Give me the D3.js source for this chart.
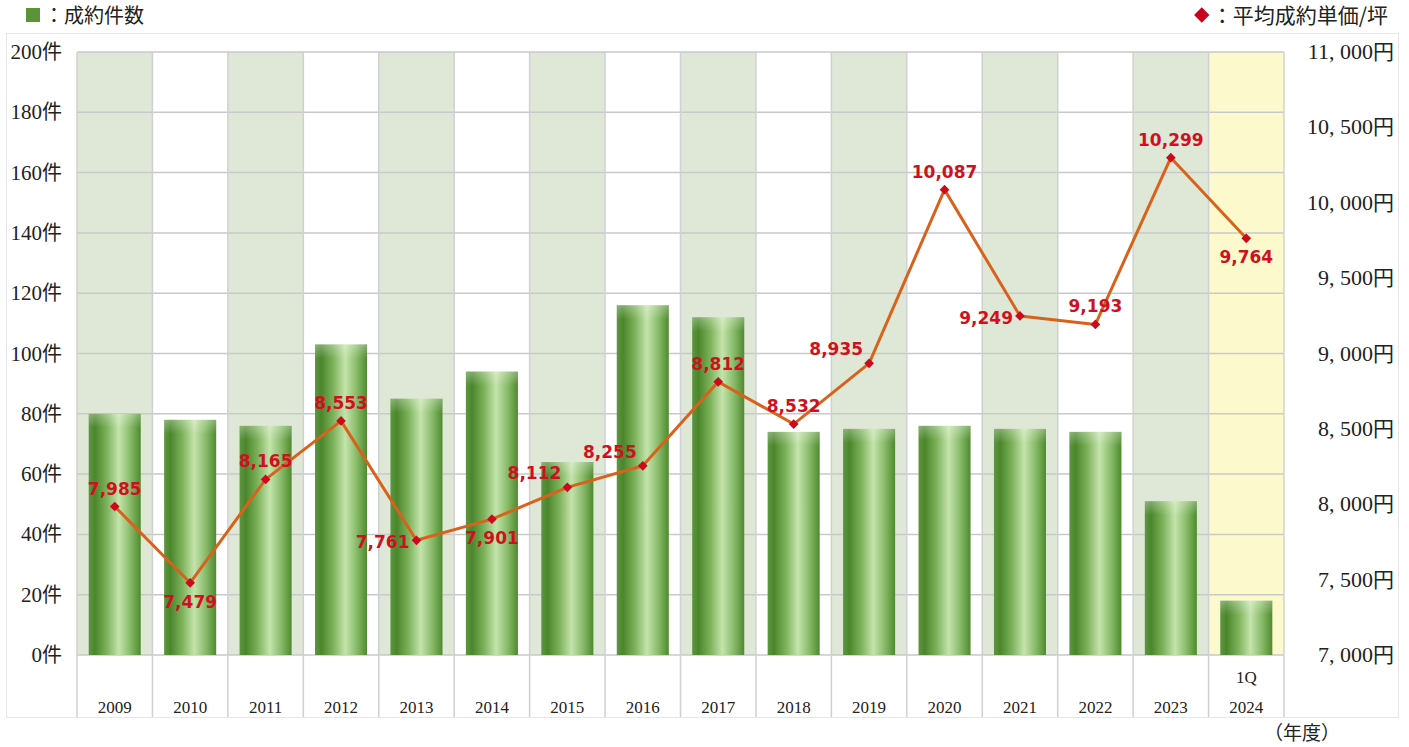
<!DOCTYPE html>
<html>
<head>
<meta charset="utf-8">
<script src="https://cdn.jsdelivr.net/npm/d3@7"></script>
<style>
  html, body { margin: 0; padding: 0; background: #fff; }
  svg { display: block; }
</style>
</head>
<body>
<svg id="chart" width="1409" height="747"></svg>
<script>
// data
const years = ["2009", "2010", "2011", "2012", "2013", "2014", "2015", "2016",
               "2017", "2018", "2019", "2020", "2021", "2022", "2023", "2024"]
const subLabels = ["", "", "", "", "", "", "", "", "", "", "", "", "", "", "", "1Q"]
const dealCounts = [80, 78, 76, 103, 85, 94, 64, 116, 112, 74, 75, 76, 75, 74, 51, 18]
const unitPrices = [7985, 7479, 8165, 8553, 7761, 7901, 8112, 8255,
                    8812, 8532, 8935, 10087, 9249, 9193, 10299, 9764]
const labelSides = ["above", "below", "above", "above", "left", "below", "aboveLeft", "aboveLeft",
                    "above", "above", "aboveLeft", "above", "left", "above", "above", "below"]
const countTicks = [0, 20, 40, 60, 80, 100, 120, 140, 160, 180, 200]
const priceTicks = [7000, 7500, 8000, 8500, 9000, 9500, 10000, 10500, 11000]

const serif = '"Liberation Serif", "DejaVu Serif", serif'
const gothic = '"Noto Sans CJK JP", "Noto Sans", sans-serif'

const svg = d3.select("#chart")
const plotLeft = 77, plotRight = 1284, plotTop = 52, plotBottom = 655, labelBottom = 717

const x = d3.scaleBand().domain(years).range([plotLeft, plotRight]).padding(0)
const yCount = d3.scaleLinear().domain([0, 200]).range([plotBottom, plotTop])
const yPrice = d3.scaleLinear().domain([7000, 11000]).range([plotBottom, plotTop])

// bar gradient
const defs = svg.append("defs")
const grad = defs.append("linearGradient")
    .attr("id", "barGrad")
    .attr("x1", "0%").attr("x2", "100%").attr("y1", "0%").attr("y2", "0%")
const stops = [[0, "#5e9642"], [0.12, "#4b862b"], [0.35, "#7db25b"], [0.58, "#c4e4ab"], [0.8, "#88bb69"], [1, "#4e8a2e"]]
stops.forEach(s => grad.append("stop").attr("offset", s[0]).attr("stop-color", s[1]))

const capGrad = defs.append("linearGradient")
    .attr("id", "capGrad")
    .attr("x1", "0%").attr("x2", "0%").attr("y1", "0%").attr("y2", "100%")
capGrad.append("stop").attr("offset", 0).attr("stop-color", "#ffffff").attr("stop-opacity", 0.3)
capGrad.append("stop").attr("offset", 1).attr("stop-color", "#ffffff").attr("stop-opacity", 0)

// outer frame
svg.append("rect")
    .attr("x", 6.5).attr("y", 33.5)
    .attr("width", 1392).attr("height", labelBottom - 33)
    .attr("fill", "none")
    .attr("stroke", "#e6e6e6")

// column backgrounds
svg.append("g")
    .selectAll("rect")
    .data(years)
    .join("rect")
    .attr("x", d => x(d))
    .attr("y", plotTop)
    .attr("width", x.bandwidth())
    .attr("height", plotBottom - plotTop)
    .attr("fill", (d, i) => i === years.length - 1 ? "#fcf9cc" : (i % 2 === 0 ? "#dfe8d6" : "#ffffff"))

// horizontal grid
svg.append("g")
    .selectAll("line")
    .data(countTicks)
    .join("line")
    .attr("x1", plotLeft).attr("x2", plotRight)
    .attr("y1", d => yCount(d)).attr("y2", d => yCount(d))
    .attr("stroke", "#c9c9c9")
    .attr("stroke-width", 1.5)

// vertical separators
const seps = years.map(d => x(d)).concat([plotRight])
svg.append("g")
    .selectAll("line")
    .data(seps)
    .join("line")
    .attr("x1", d => d).attr("x2", d => d)
    .attr("y1", plotTop).attr("y2", labelBottom)
    .attr("stroke", "#d0d0d4")
    .attr("stroke-width", 1.5)

// bars
const barW = x.bandwidth() * 0.69
const bars = svg.append("g")
bars.selectAll("rect.bar")
    .data(dealCounts)
    .join("rect")
    .attr("class", "bar")
    .attr("x", (d, i) => x(years[i]) + (x.bandwidth() - barW) / 2)
    .attr("y", d => yCount(d))
    .attr("width", barW)
    .attr("height", d => plotBottom - yCount(d))
    .attr("fill", "url(#barGrad)")
bars.selectAll("rect.cap")
    .data(dealCounts)
    .join("rect")
    .attr("class", "cap")
    .attr("x", (d, i) => x(years[i]) + (x.bandwidth() - barW) / 2)
    .attr("y", d => yCount(d))
    .attr("width", barW)
    .attr("height", 14)
    .attr("fill", "url(#capGrad)")

// left axis labels
const leftLabels = svg.append("g")
    .selectAll("text")
    .data(countTicks)
    .join("text")
    .attr("x", 62)
    .attr("y", d => yCount(d) + 7)
    .attr("text-anchor", "end")
    .attr("font-size", 20)
    .attr("fill", "#222")
leftLabels.append("tspan").attr("font-family", serif).attr("font-size", 21).text(d => d)
leftLabels.append("tspan").attr("font-family", gothic).text("件")

// right axis labels
const rightLabels = svg.append("g")
    .selectAll("text")
    .data(priceTicks)
    .join("text")
    .attr("x", 1394)
    .attr("y", d => yPrice(d) + 7)
    .attr("text-anchor", "end")
    .attr("font-size", 21)
    .attr("fill", "#222")
rightLabels.append("tspan").attr("font-family", serif).attr("font-size", 22)
    .text(d => d3.format(",")(d).replace(",", ", "))
rightLabels.append("tspan").attr("font-family", gothic).text("円")

// category labels
const cat = svg.append("g")
    .attr("font-family", serif)
    .attr("font-size", 17)
    .attr("fill", "#222")
    .attr("text-anchor", "middle")
cat.selectAll("text.year")
    .data(years)
    .join("text")
    .attr("class", "year")
    .attr("x", d => x(d) + x.bandwidth() / 2)
    .attr("y", 713)
    .text(d => d)
cat.selectAll("text.sub")
    .data(subLabels)
    .join("text")
    .attr("class", "sub")
    .attr("x", (d, i) => x(years[i]) + x.bandwidth() / 2)
    .attr("y", 683)
    .text(d => d)

svg.append("text")
    .attr("x", 1302)
    .attr("y", 740)
    .attr("text-anchor", "middle")
    .attr("font-family", gothic)
    .attr("font-size", 19)
    .attr("fill", "#222")
    .text("（年度）")

// price line
const cx = i => x(years[i]) + x.bandwidth() / 2
const line = d3.line()
    .x((d, i) => cx(i))
    .y(d => yPrice(d))
svg.append("path")
    .datum(unitPrices)
    .attr("d", line)
    .attr("fill", "none")
    .attr("stroke", "#d8621c")
    .attr("stroke-width", 3)
    .attr("stroke-linejoin", "round")

svg.append("g")
    .selectAll("path")
    .data(unitPrices)
    .join("path")
    .attr("d", d3.symbol(d3.symbolDiamond2, 60))
    .attr("transform", (d, i) => `translate(${cx(i)},${yPrice(d)})`)
    .attr("fill", "#cc0a1e")

// value labels
const offsets = {
    above: [0, -12, "middle"],
    below: [0, 25, "middle"],
    left: [-7, 8, "end"],
    aboveLeft: [-6, -8, "end"]
}
svg.append("g")
    .selectAll("text")
    .data(unitPrices)
    .join("text")
    .attr("x", (d, i) => cx(i) + offsets[labelSides[i]][0])
    .attr("y", (d, i) => yPrice(d) + offsets[labelSides[i]][1])
    .attr("text-anchor", (d, i) => offsets[labelSides[i]][2])
    .attr("font-family", '"DejaVu Sans", Verdana, sans-serif')
    .attr("font-weight", "bold")
    .attr("font-size", 17)
    .attr("fill", "#d0101e")
    .text(d => d3.format(",")(d))

// legends
svg.append("rect")
    .attr("x", 26).attr("y", 8)
    .attr("width", 14).attr("height", 14)
    .attr("fill", "#5b9339")
svg.append("text")
    .attr("x", 44).attr("y", 23)
    .attr("font-family", gothic)
    .attr("font-size", 20)
    .attr("fill", "#222")
    .text("：成約件数")

const priceLegend = svg.append("text")
    .attr("x", 1388).attr("y", 23)
    .attr("text-anchor", "end")
    .attr("font-family", gothic)
    .attr("font-size", 21)
    .attr("fill", "#222")
    .text("：平均成約単価/坪")
const lb = priceLegend.node().getBBox()
svg.append("path")
    .attr("d", d3.symbol(d3.symbolDiamond2, 150))
    .attr("transform", `translate(${lb.x - 10},15)`)
    .attr("fill", "#c8001e")
</script>
</body>
</html>
